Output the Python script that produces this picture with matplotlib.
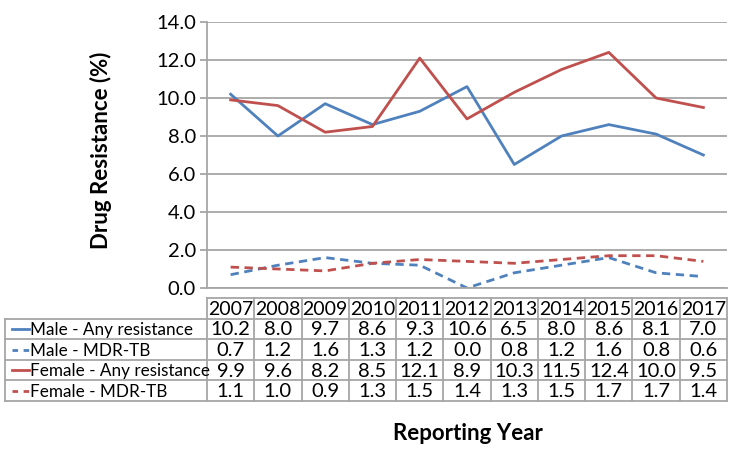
import numpy as np
import matplotlib
matplotlib.use("Agg")
import matplotlib.pyplot as plt

plt.rcParams["font.family"] = ["Lato", "DejaVu Sans"]

years = ["2007", "2008", "2009", "2010", "2011", "2012", "2013", "2014", "2015", "2016", "2017"]
male_any = [10.2, 8.0, 9.7, 8.6, 9.3, 10.6, 6.5, 8.0, 8.6, 8.1, 7.0]
male_mdr = [0.7, 1.2, 1.6, 1.3, 1.2, 0.0, 0.8, 1.2, 1.6, 0.8, 0.6]
female_any = [9.9, 9.6, 8.2, 8.5, 12.1, 8.9, 10.3, 11.5, 12.4, 10.0, 9.5]
female_mdr = [1.1, 1.0, 0.9, 1.3, 1.5, 1.4, 1.3, 1.5, 1.7, 1.7, 1.4]

series = [
    ("Male - Any resistance", male_any, "#4F81BD", "-"),
    ("Male - MDR-TB", male_mdr, "#4F81BD", "--"),
    ("Female - Any resistance", female_any, "#C0504D", "-"),
    ("Female - MDR-TB", female_mdr, "#C0504D", "--"),
]

W, H = 733, 453
GRID = "#a6a6a6"
fig = plt.figure(figsize=(W / 100, H / 100), dpi=100)


def box(l, t, r, b):
    return [l / W, 1 - b / H, (r - l) / W, (b - t) / H]


ax = fig.add_axes(box(207, 22, 727, 288))
x = np.arange(len(years))
for name, vals, col, ls in series:
    ax.plot(x, vals, color=col, linestyle=ls, linewidth=2.0, dashes=(3, 2) if ls == "--" else (None, None))
ax.set_xlim(-0.5, len(years) - 0.5)
ax.set_ylim(0, 14)
ax.set_yticks(np.arange(0, 15, 2))
ax.set_yticklabels([f"{v:.1f}" for v in np.arange(0, 15, 2)], fontsize=14.5)
ax.set_xticks([])
ax.yaxis.grid(True, color=GRID, linewidth=1.3)
ax.set_axisbelow(True)
for s in ["top", "right"]:
    ax.spines[s].set_visible(False)
ax.spines["left"].set_color(GRID)
ax.spines["bottom"].set_color(GRID)
ax.spines["left"].set_linewidth(1.3)
ax.spines["bottom"].set_linewidth(1.3)
ax.tick_params(axis="y", color=GRID, length=5, width=1.3, pad=3)
fig.text(101 / W, 1 - 150 / H, "Drug Resistance (%)", rotation=90, ha="center", va="center",
         fontsize=16, fontweight="bold")

# data table below the plot
tab = fig.add_axes(box(207, 298, 727, 401))
tab.set_xlim(-0.5, len(years) - 0.5)
nrow = len(series) + 1
tab.set_ylim(nrow, 0)
tab.axis("off")
left = -0.5 - 202 / (520 / len(years))
lw = 1.3
# horizontal lines
tab.plot([-0.5, len(years) - 0.5], [0, 0], color=GRID, lw=lw, clip_on=False)
for r in range(1, nrow + 1):
    tab.plot([left, len(years) - 0.5], [r, r], color=GRID, lw=lw, clip_on=False)
# vertical lines
for c in range(len(years) + 1):
    tab.plot([c - 0.5, c - 0.5], [0, nrow], color=GRID, lw=lw, clip_on=False)
tab.plot([left, left], [1, nrow], color=GRID, lw=lw, clip_on=False)

for c, yr in enumerate(years):
    tab.text(c, 0.55, yr, ha="center", va="center", fontsize=14)
for r, (name, vals, col, ls) in enumerate(series, start=1):
    yc = r + 0.5
    tab.plot([left + 0.15, left + 0.5], [yc, yc], color=col, lw=2.0, clip_on=False,
             dashes=(2, 2) if ls == "--" else (None, None))
    tab.text(left + 0.53, yc + 0.05, name, ha="left", va="center", fontsize=12.3)
    for c, v in enumerate(vals):
        tab.text(c, yc + 0.05, f"{v:.1f}", ha="center", va="center", fontsize=14.5)

fig.text(468 / W, 1 - 433 / H, "Reporting Year", ha="center", va="center",
         fontsize=16, fontweight="bold")

fig.savefig("out.png", dpi=100)
